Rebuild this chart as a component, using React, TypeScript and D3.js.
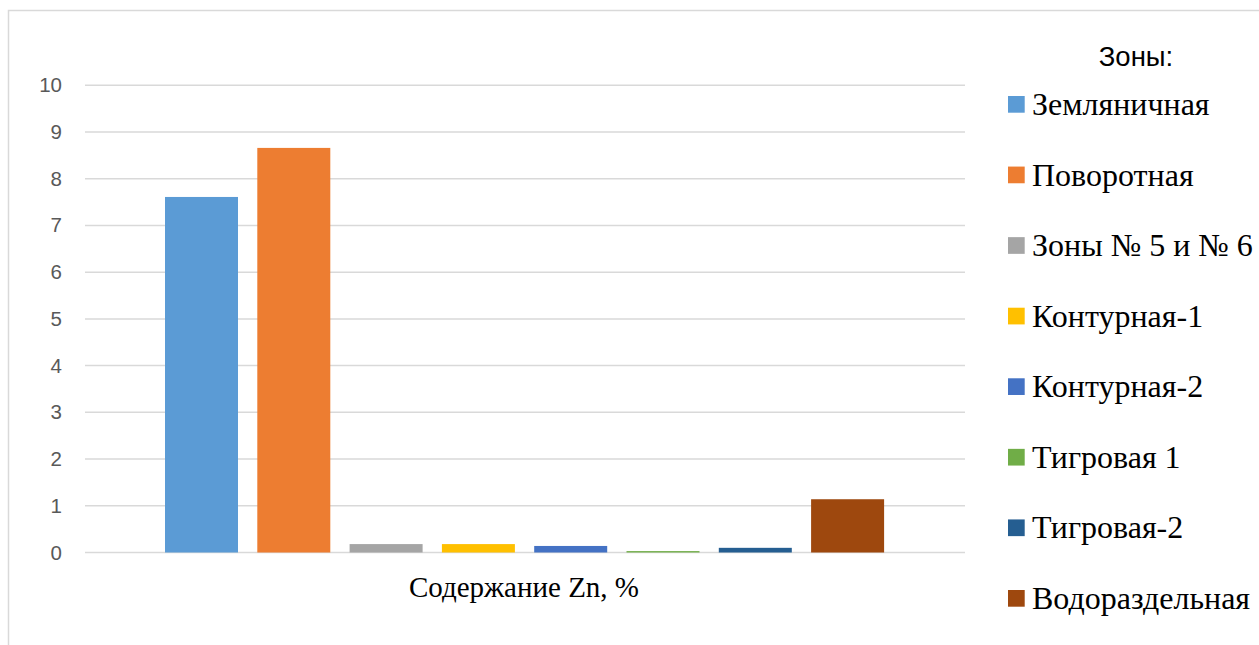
import React from "react";
import * as d3 from "d3";

// Zinc content by zone
const zones: string[] = [
  "Земляничная",
  "Поворотная",
  "Зоны № 5 и № 6",
  "Контурная-1",
  "Контурная-2",
  "Тигровая 1",
  "Тигровая-2",
  "Водораздельная",
];
const znValues: number[] = [7.61, 8.66, 0.18, 0.18, 0.14, 0.03, 0.1, 1.14];
const zoneColors: string[] = [
  "#5B9BD5",
  "#ED7D31",
  "#A5A5A5",
  "#FFC000",
  "#4472C4",
  "#70AD47",
  "#255E91",
  "#9E480E",
];
const yTicks: number[] = [0, 1, 2, 3, 4, 5, 6, 7, 8, 9, 10];
const categoryLabel = "Содержание Zn, %";
const legendTitle = "Зоны:";

const W = 1259;
const H = 645;

export default function App() {
  const plotLeft = 85;
  const plotRight = 965;
  const y = d3.scaleLinear().domain([0, 10]).range([552.5, 85.3]);

  // bars sit in one cluster with gaps between them
  const step = 92.3;
  const barW = 73;
  const x = d3
    .scaleBand<string>()
    .domain(zones)
    .range([165, 165 + step * (zones.length - 1) + barW])
    .paddingInner((step - barW) / step)
    .paddingOuter(0)
    .align(0);

  const legendY = d3
    .scalePoint<string>()
    .domain(zones)
    .range([104.3, 598.3]);

  const serif = "'Liberation Serif', 'Times New Roman', serif";
  const sans = "'Liberation Sans', Arial, sans-serif";

  return (
    <svg
      width={W}
      height={H}
      style={{ position: "absolute", left: 0, top: 0, background: "#fff" }}
    >
      {/* chart frame */}
      <rect
        x={8.5}
        y={10.5}
        width={1400}
        height={800}
        fill="#fff"
        stroke="#d9d9d9"
        strokeWidth={1.5}
      />

      {/* gridlines and tick labels */}
      {yTicks.map((t) => (
        <g key={t}>
          <line
            x1={plotLeft}
            x2={plotRight}
            y1={y(t)}
            y2={y(t)}
            stroke="#d9d9d9"
            strokeWidth={1.5}
          />
          <text
            x={62}
            y={y(t) + 7}
            textAnchor="end"
            fontFamily={sans}
            fontSize={20.5}
            fill="#595959"
          >
            {t}
          </text>
        </g>
      ))}

      {/* bars */}
      {zones.map((z, i) => (
        <rect
          key={z}
          x={x(z)}
          y={y(znValues[i])}
          width={x.bandwidth()}
          height={y(0) - y(znValues[i])}
          fill={zoneColors[i]}
        />
      ))}

      {/* category axis label */}
      <text
        x={524}
        y={597}
        textAnchor="middle"
        fontFamily={serif}
        fontSize={29}
        fill="#000"
      >
        {categoryLabel}
      </text>

      {/* legend */}
      <text
        x={1136}
        y={66}
        textAnchor="middle"
        fontFamily={sans}
        fontSize={27.5}
        fill="#000"
      >
        {legendTitle}
      </text>
      {zones.map((z, i) => (
        <g key={z}>
          <rect
            x={1008}
            y={(legendY(z) as number) - 8.3}
            width={16.7}
            height={16.7}
            fill={zoneColors[i]}
          />
          <text
            x={1032}
            y={(legendY(z) as number) + 10.7}
            fontFamily={serif}
            fontSize={32}
            fill="#000"
          >
            {z}
          </text>
        </g>
      ))}
    </svg>
  );
}
